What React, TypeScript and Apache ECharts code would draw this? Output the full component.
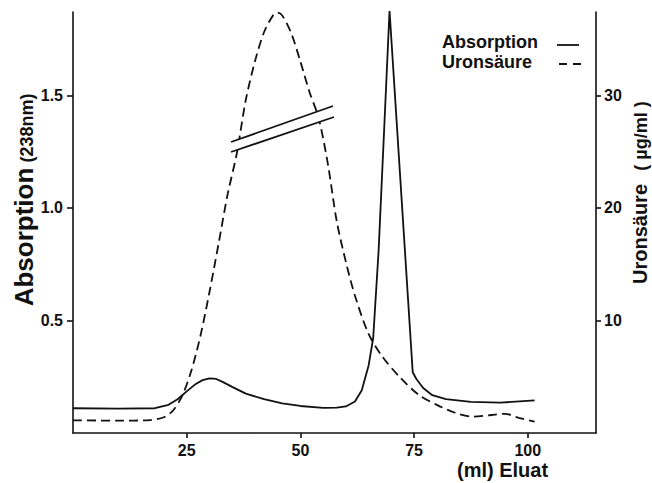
import React, { useEffect, useRef } from "react";
import * as echarts from "echarts";

// Elution volume (ml) and absorption at 238 nm (solid line)
const absorptionData: [number, number][] = [
  [0, 0.11], [10, 0.108], [18, 0.11], [21, 0.125], [23, 0.15], [25, 0.185], [27, 0.218],
  [28.5, 0.235], [30, 0.243], [31.5, 0.24], [33, 0.226], [35, 0.205], [38, 0.175],
  [42, 0.15], [46, 0.132], [50, 0.12], [55, 0.112], [58, 0.113], [60, 0.118],
  [62, 0.14], [63.5, 0.19], [65, 0.3], [66, 0.42], [67.2, 0.81], [68.4, 1.34],
  [69.6, 1.876], [74.7, 0.27], [75.5, 0.24], [77, 0.2], [79, 0.168], [82, 0.15],
  [87.5, 0.138], [94, 0.135], [101.5, 0.145],
];

// Uronic acid (µg/ml) (dashed line)
const uronData: [number, number][] = [
  [0, 1.13], [10, 1.1], [17, 1.15], [20, 1.4], [22, 2.0], [24, 3.3], [26, 5.5],
  [28, 8.6], [30, 12.5], [32, 16.8], [34, 21.2], [36, 24.8], [38, 29.6], [40, 33],
  [42, 35.6], [44, 37.1], [45, 37.35], [46, 37.1], [48, 35.5], [50, 33], [52, 30.3],
  [54, 28], [56, 24], [58, 18.8], [60, 15.2], [62, 12.2], [65, 8.8], [68, 6.8],
  [72, 4.9], [76, 3.4], [80, 2.5], [84, 1.8], [88, 1.45], [92, 1.6], [95, 1.7],
  [98, 1.35], [101.5, 1.0],
];

const xTicks = [25, 50, 75, 100];
const leftTicks = [0.5, 1.0, 1.5];
const rightTicks = [10, 20, 30];

const FONT = '"Liberation Sans", Arial, sans-serif';
const INK = "#111";

export default function App() {
  const ref = useRef<HTMLDivElement>(null);
  useEffect(() => {
    if (!ref.current) return;
    const chart = echarts.init(ref.current, null, { renderer: "svg" });
    const axisLine = { show: true, onZero: false, lineStyle: { color: INK, width: 1.6 } };
    const tickLabel = { color: INK, fontSize: 16, fontWeight: "bold" as const, fontFamily: FONT };
    chart.setOption({
      animation: false,
      backgroundColor: "#fff",
      grid: { left: 73, right: 56, top: 12, bottom: 50 },
      xAxis: {
        type: "value",
        min: 0,
        max: 115,
        interval: 25,
        axisLine,
        splitLine: { show: false },
        axisTick: { customValues: xTicks, length: 5, lineStyle: { color: INK, width: 1.6 } },
        axisLabel: { ...tickLabel, customValues: xTicks, margin: 9 },
      },
      yAxis: [
        {
          type: "value",
          position: "left",
          min: 0,
          max: 1.87,
          interval: 0.5,
          axisLine,
          splitLine: { show: false },
          axisTick: { customValues: leftTicks, length: 6, lineStyle: { color: INK, width: 1.6 } },
          axisLabel: {
            ...tickLabel,
            customValues: leftTicks,
            margin: 10,
            formatter: (v: number) => v.toFixed(1),
          },
        },
        {
          type: "value",
          position: "right",
          min: 0,
          max: 37.4,
          interval: 10,
          axisLine,
          splitLine: { show: false },
          axisTick: { customValues: rightTicks, length: 5, lineStyle: { color: INK, width: 1.6 } },
          axisLabel: { ...tickLabel, customValues: rightTicks, margin: 8 },
        },
      ],
      series: [
        {
          name: "Absorption",
          type: "line",
          yAxisIndex: 0,
          data: absorptionData,
          symbol: "none",
          smooth: false,
          lineStyle: { color: INK, width: 1.8 },
          z: 3,
        },
        {
          name: "Uronsäure",
          type: "line",
          yAxisIndex: 1,
          data: uronData,
          symbol: "none",
          smooth: 0.3,
          lineStyle: { color: INK, width: 1.8, type: [9, 5] },
          z: 2,
        },
      ],
      graphic: [
        // break marker (double parallel lines)
        {
          type: "polygon",
          z: 10,
          shape: { points: [[231, 142], [333, 106], [334, 117], [231, 152]] },
          style: { fill: "#fff" },
        },
        {
          type: "line",
          z: 11,
          shape: { x1: 231, y1: 142, x2: 333, y2: 106 },
          style: { stroke: INK, lineWidth: 1.8 },
        },
        {
          type: "line",
          z: 11,
          shape: { x1: 231, y1: 152, x2: 334, y2: 117 },
          style: { stroke: INK, lineWidth: 1.8 },
        },
        // legend
        {
          type: "text",
          x: 442,
          y: 42,
          style: { text: "Absorption", font: `bold 18px ${FONT}`, fill: INK, align: "left", verticalAlign: "middle" },
        },
        {
          type: "line",
          shape: { x1: 557, y1: 45, x2: 579, y2: 45 },
          style: { stroke: INK, lineWidth: 1.8 },
        },
        {
          type: "text",
          x: 442,
          y: 62,
          style: { text: "Uronsäure", font: `bold 18px ${FONT}`, fill: INK, align: "left", verticalAlign: "middle" },
        },
        {
          type: "line",
          shape: { x1: 559, y1: 64, x2: 581, y2: 64 },
          style: { stroke: INK, lineWidth: 1.8, lineDash: [8, 6] },
        },
        // left axis title
        {
          type: "text",
          x: 24,
          y: 237,
          rotation: Math.PI / 2,
          style: { text: "Absorption", font: `bold 26px ${FONT}`, fill: INK, align: "center", verticalAlign: "middle" },
        },
        {
          type: "text",
          x: 27,
          y: 128,
          rotation: Math.PI / 2,
          style: { text: "(238nm)", font: `bold 18px ${FONT}`, fill: INK, align: "center", verticalAlign: "middle" },
        },
        // right axis title
        {
          type: "text",
          x: 640,
          y: 234,
          rotation: Math.PI / 2,
          style: { text: "Uronsäure", font: `bold 20px ${FONT}`, fill: INK, align: "center", verticalAlign: "middle" },
        },
        {
          type: "text",
          x: 641,
          y: 136,
          rotation: Math.PI / 2,
          style: { text: "( µg/ml )", font: `bold 18px ${FONT}`, fill: INK, align: "center", verticalAlign: "middle" },
        },
        // x axis title
        {
          type: "text",
          x: 457,
          y: 470,
          style: { text: "(ml) Eluat", font: `bold 20px ${FONT}`, fill: INK, align: "left", verticalAlign: "middle" },
        },
      ],
    });
    return () => chart.dispose();
  }, []);
  return (
    <div
      ref={ref}
      style={{ position: "absolute", left: 0, top: 0, width: 652, height: 483, background: "#fff" }}
    />
  );
}
